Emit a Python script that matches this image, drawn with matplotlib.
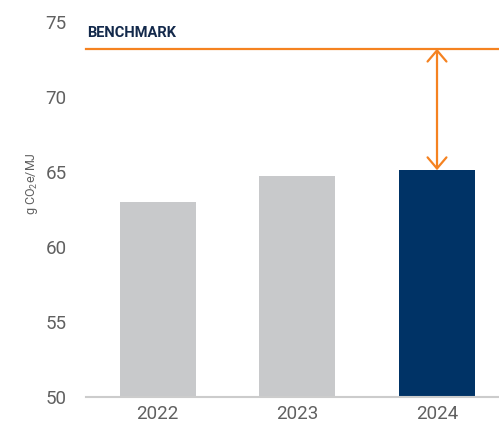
import matplotlib
matplotlib.use("Agg")
import matplotlib.pyplot as plt

years = ["2022", "2023", "2024"]
values = [63.0, 64.7, 65.1]
benchmark = 73.2
bar_colors = ["#C8C9CB", "#C8C9CB", "#003366"]
yticks = [50, 55, 60, 65, 70, 75]

plt.rcParams['font.family'] = ['Roboto', 'DejaVu Sans']
plt.rcParams['mathtext.fontset'] = 'custom'
plt.rcParams['mathtext.rm'] = 'Roboto'

fig = plt.figure(figsize=(4.99, 4.28), dpi=100)
ax = fig.add_axes([86/499, (428-396.7)/428, (499-86)/499, (396.7-21.7)/428])

x = list(range(len(years)))
ax.bar(x, values, width=0.545, color=bar_colors, zorder=2)
ax.set_xlim(-0.514, 2.444)
ax.set_ylim(50, 75)
ax.set_yticks(yticks)
ax.set_xticks(x)
ax.set_xticklabels(years)
ax.tick_params(axis='both', length=0, labelsize=13.5, labelcolor='#606060')
ax.tick_params(axis='y', pad=14)
ax.tick_params(axis='x', pad=6)
for s in ['top', 'right', 'left']:
    ax.spines[s].set_visible(False)
ax.spines['bottom'].set_color('#CCCCCC')
ax.spines['bottom'].set_linewidth(1.5)

orange = '#F58220'
ax.axhline(benchmark, color=orange, lw=1.6, zorder=3, clip_on=False)
ax.text(-0.505, benchmark + 0.55, "BENCHMARK", fontsize=10.5, fontweight='bold',
        color='#13294B', ha='left', va='bottom')

ax.annotate("", xy=(2, values[2]), xytext=(2, benchmark),
            arrowprops=dict(arrowstyle="<->,head_length=0.4,head_width=0.34",
                            color=orange, lw=1.6, mutation_scale=20,
                            shrinkA=0, shrinkB=0))

fig.text(32/499, 1 - 184/428, r"g CO$_{\mathrm{2}}$e/MJ", rotation=90, fontsize=9,
         color='#606060', ha='center', va='center')

fig.savefig("out.png", dpi=100)
